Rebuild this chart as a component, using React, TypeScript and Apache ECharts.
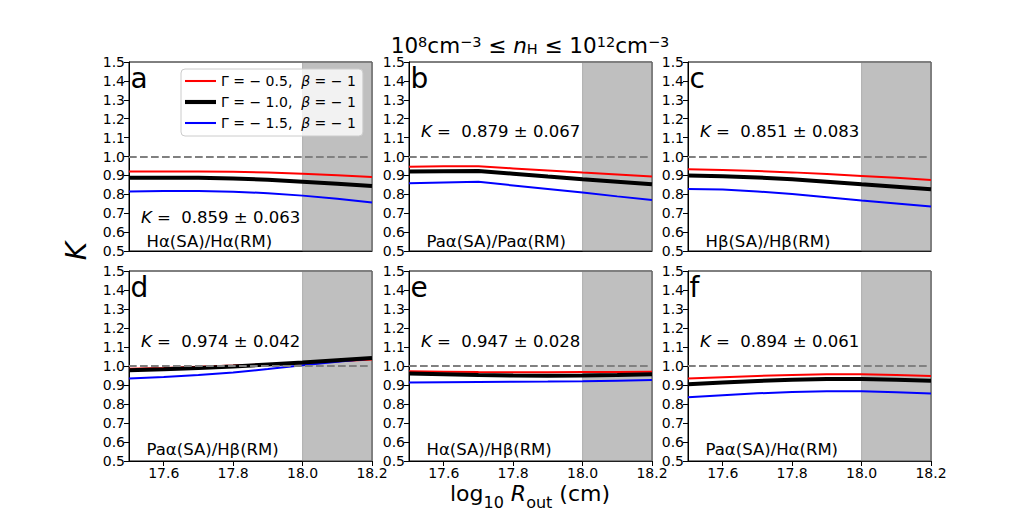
import React, { useEffect, useRef } from 'react';
import * as echarts from 'echarts';

const FONT = 'DejaVu Sans';

const xValues = [17.5, 17.6, 17.7, 17.8, 17.9, 18.0, 18.1, 18.2];
const xTickValues = [17.6, 17.8, 18.0, 18.2];
const seriesNames = ['Γ = −0.5, β = −1', 'Γ = −1.0, β = −1', 'Γ = −1.5, β = −1'];
const legendTexts = ['Γ = − 0.5,  {i|β} = − 1', 'Γ = − 1.0,  {i|β} = − 1', 'Γ = − 1.5,  {i|β} = − 1'];
const seriesColors = ['#ff0000', '#000000', '#0000ff'];
const seriesWidths = [2, 4, 2];
const legendIcons = ['path://M0,0 H30 V2 H0 Z', 'path://M0,0 H30 V4 H0 Z', 'path://M0,0 H30 V2 H0 Z'];

const panelLetters = ['a', 'b', 'c', 'd', 'e', 'f'];
const ratioLabels = [
  'Hα(SA)/Hα(RM)',
  'Paα(SA)/Paα(RM)',
  'Hβ(SA)/Hβ(RM)',
  'Paα(SA)/Hβ(RM)',
  'Hα(SA)/Hβ(RM)',
  'Paα(SA)/Hα(RM)',
];
const kMeans = ['0.859', '0.879', '0.851', '0.974', '0.947', '0.894'];
const kErrs = ['0.063', '0.067', '0.083', '0.042', '0.028', '0.061'];

// panel a: Hα(SA)/Hα(RM)
const redA = [0.920, 0.921, 0.921, 0.919, 0.915, 0.909, 0.901, 0.892];
const blackA = [0.887, 0.888, 0.887, 0.884, 0.877, 0.867, 0.856, 0.844];
const blueA = [0.815, 0.818, 0.818, 0.814, 0.806, 0.793, 0.776, 0.756];
// panel b: Paα(SA)/Paα(RM)
const redB = [0.946, 0.948, 0.948, 0.937, 0.926, 0.915, 0.905, 0.894];
const blackB = [0.920, 0.922, 0.923, 0.909, 0.894, 0.880, 0.867, 0.853];
const blueB = [0.859, 0.863, 0.866, 0.847, 0.828, 0.809, 0.789, 0.770];
// panel c: Hβ(SA)/Hβ(RM)
const redC = [0.933, 0.929, 0.923, 0.916, 0.907, 0.897, 0.887, 0.876];
const blackC = [0.899, 0.896, 0.889, 0.880, 0.867, 0.853, 0.840, 0.827];
const blueC = [0.828, 0.825, 0.815, 0.802, 0.785, 0.767, 0.751, 0.735];
// panel d: Paα(SA)/Hβ(RM)
const redD = [0.986, 0.990, 0.996, 1.002, 1.009, 1.016, 1.025, 1.034];
const blackD = [0.977, 0.983, 0.990, 0.998, 1.008, 1.018, 1.030, 1.042];
const blueD = [0.934, 0.942, 0.952, 0.966, 0.984, 1.004, 1.022, 1.039];
// panel e: Hα(SA)/Hβ(RM)
const redE = [0.972, 0.970, 0.968, 0.967, 0.967, 0.968, 0.969, 0.970];
const blackE = [0.960, 0.957, 0.953, 0.950, 0.949, 0.950, 0.953, 0.957];
const blueE = [0.913, 0.915, 0.916, 0.917, 0.918, 0.920, 0.923, 0.926];
// panel f: Paα(SA)/Hα(RM)
const redF = [0.934, 0.941, 0.948, 0.953, 0.956, 0.956, 0.952, 0.947];
const blackF = [0.904, 0.913, 0.921, 0.928, 0.932, 0.932, 0.928, 0.923];
const blueF = [0.835, 0.846, 0.856, 0.863, 0.867, 0.867, 0.862, 0.855];

const panelData = [
  [redA, blackA, blueA],
  [redB, blackB, blueB],
  [redC, blackC, blueC],
  [redD, blackD, blueD],
  [redE, blackE, blueE],
  [redF, blackF, blueF],
];

const shadeRange = [18.0, 18.2];
const refLine = 1.0;

// layout (pixels)
const gridLefts = [129, 409, 688];
const gridTops = [62, 271];
const gridHeights = [189, 190];
const gridWidth = 243;
const kTextY = [217.6, 131.6, 131.6, 341, 341, 341];
const ratioTextY = [241, 241, 241, 449.3, 449.3, 449.3];

function buildOption() {
  const grids: any[] = [];
  const xAxes: any[] = [];
  const yAxes: any[] = [];
  const series: any[] = [];
  const graphics: any[] = [];

  for (let p = 0; p < 6; p++) {
    const row = Math.floor(p / 3);
    const col = p % 3;
    const left = gridLefts[col];
    const top = gridTops[row];
    grids.push({
      left,
      top,
      width: gridWidth,
      height: gridHeights[row],
      show: true,
      borderColor: '#000',
      borderWidth: 1,
      backgroundColor: 'transparent',
      containLabel: false,
    });
    const bottomRow = row === 1;
    xAxes.push({
      type: 'value',
      gridIndex: p,
      min: 17.5,
      max: 18.2,
      axisLine: { show: true, onZero: false, lineStyle: { color: '#000', width: 1 } },
      axisTick: {
        show: bottomRow,
        customValues: xTickValues,
        length: 5,
        lineStyle: { color: '#000', width: 1 },
      },
      axisLabel: {
        show: bottomRow,
        customValues: xTickValues,
        formatter: (v: number) => v.toFixed(1),
        color: '#000',
        fontSize: 14,
        fontFamily: FONT,
        margin: 5,
      },
      splitLine: { show: false },
    });
    yAxes.push({
      type: 'value',
      gridIndex: p,
      min: 0.5,
      max: 1.5,
      interval: 0.1,
      axisLine: { show: true, onZero: false, lineStyle: { color: '#000', width: 1 } },
      axisTick: { show: true, length: 5, lineStyle: { color: '#000', width: 1 } },
      axisLabel: {
        show: true,
        formatter: (v: number) => v.toFixed(1),
        color: '#000',
        fontSize: 14,
        fontFamily: FONT,
        margin: 4,
      },
      splitLine: { show: false },
    });

    for (let s = 0; s < 3; s++) {
      const vals = panelData[p][s];
      const ser: any = {
        type: 'line',
        name: seriesNames[s],
        xAxisIndex: p,
        yAxisIndex: p,
        data: xValues.map((x, i) => [x, vals[i]]),
        symbol: 'none',
        showSymbol: false,
        smooth: false,
        lineStyle: { color: seriesColors[s], width: seriesWidths[s] },
        itemStyle: { color: seriesColors[s] },
        z: s === 1 ? 3 : 2,
        silent: true,
      };
      if (s === 0) {
        ser.markArea = {
          silent: true,
          z: 1,
          itemStyle: {
            color: 'rgba(128,128,128,0.5)',
            borderColor: 'rgba(128,128,128,0.5)',
            borderWidth: 1,
          },
          data: [[{ xAxis: shadeRange[0] }, { xAxis: shadeRange[1] }]],
        };
        ser.markLine = {
          silent: true,
          symbol: ['none', 'none'],
          label: { show: false },
          lineStyle: { color: '#808080', type: [7.7, 3.3], width: 2 },
          data: [{ yAxis: refLine }],
        };
      }
      series.push(ser);
    }

    // panel letter
    graphics.push({
      type: 'text',
      x: left + 1.5,
      y: top + 16,
      style: {
        text: panelLetters[p],
        fontSize: 28,
        fontFamily: FONT,
        fill: '#000',
        align: 'left',
        verticalAlign: 'middle',
      },
      z: 10,
    });
    // K text
    graphics.push({
      type: 'text',
      x: left + 12,
      y: kTextY[p],
      style: {
        text: '{i|K} =  ' + kMeans[p] + ' ± ' + kErrs[p],
        fontSize: 16.5,
        fontFamily: FONT,
        fill: '#000',
        align: 'left',
        verticalAlign: 'middle',
        rich: {
          i: { fontSize: 16.5, fontFamily: FONT, fontStyle: 'italic', fill: '#000' },
        },
      },
      z: 10,
    });
    // ratio label
    graphics.push({
      type: 'text',
      x: left + 17.5,
      y: ratioTextY[p],
      style: {
        text: ratioLabels[p],
        fontSize: 16.5,
        fontFamily: FONT,
        fill: '#000',
        align: 'left',
        verticalAlign: 'middle',
      },
      z: 10,
    });
  }

  // title
  graphics.push({
    type: 'text',
    x: 530,
    y: 45.5,
    style: {
      text: '10{sup|8}cm{sup|−3} ≤ {i|n}{sub|H} ≤ 10{sup|12}cm{sup|−3}',
      fontSize: 21.5,
      fontFamily: FONT,
      fill: '#000',
      align: 'center',
      verticalAlign: 'middle',
      lineHeight: 22,
      rich: {
        sup: { fontSize: 14.5, fontFamily: FONT, lineHeight: 16, verticalAlign: 'top', fill: '#000' },
        sub: { fontSize: 14.5, fontFamily: FONT, lineHeight: 11, verticalAlign: 'bottom', fill: '#000' },
        i: { fontSize: 21.5, fontFamily: FONT, fontStyle: 'italic', lineHeight: 22, fill: '#000' },
      },
    },
    z: 10,
  });
  // x label
  graphics.push({
    type: 'text',
    x: 530,
    y: 493.4,
    style: {
      text: 'log{sub|10} {i|R}{sub|out} (cm)',
      fontSize: 22,
      fontFamily: FONT,
      fill: '#000',
      align: 'center',
      verticalAlign: 'middle',
      lineHeight: 34,
      rich: {
        sub: { fontSize: 16, fontFamily: FONT, lineHeight: 16, verticalAlign: 'bottom', fill: '#000' },
        i: { fontSize: 22, fontFamily: FONT, fontStyle: 'italic', lineHeight: 34, fill: '#000' },
      },
    },
    z: 10,
  });
  // y label
  graphics.push({
    type: 'text',
    x: 76,
    y: 251,
    rotation: Math.PI / 2,
    style: {
      text: 'K',
      fontSize: 28,
      fontFamily: FONT,
      fontStyle: 'italic',
      fill: '#000',
      align: 'center',
      verticalAlign: 'middle',
    },
    z: 10,
  });

  return {
    animation: false,
    backgroundColor: '#ffffff',
    textStyle: { fontFamily: FONT },
    grid: grids,
    xAxis: xAxes,
    yAxis: yAxes,
    series,
    graphic: graphics,
    legend: {
      show: true,
      orient: 'vertical',
      left: 181,
      top: 69,
      padding: [5, 7, 6, 4],
      itemGap: 7,
      itemWidth: 31,
      itemHeight: 14,
      symbolKeepAspect: true,
      backgroundColor: 'rgba(255,255,255,0.8)',
      borderColor: '#cccccc',
      borderWidth: 1,
      borderRadius: 4,
      selectedMode: false,
      data: seriesNames.map((n, i) => ({
        name: n,
        icon: legendIcons[i],
        itemStyle: { color: seriesColors[i] },
      })),
      formatter: (name: string) => legendTexts[seriesNames.indexOf(name)],
      textStyle: {
        fontSize: 14,
        fontFamily: FONT,
        color: '#000',
        rich: {
          i: { fontSize: 14, fontFamily: FONT, fontStyle: 'italic', color: '#000' },
        },
      },
    },
  };
}

export default function App() {
  const ref = useRef<HTMLDivElement>(null);
  useEffect(() => {
    if (!ref.current) return;
    const chart = echarts.init(ref.current, undefined, { renderer: 'svg' });
    chart.setOption(buildOption() as any);
    return () => {
      chart.dispose();
    };
  }, []);
  return (
    <div
      ref={ref}
      style={{ position: 'fixed', left: 0, top: 0, width: 1035, height: 518, background: '#fff' }}
    />
  );
}
